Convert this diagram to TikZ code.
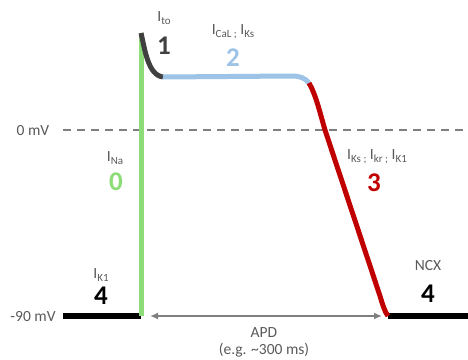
\documentclass[tikz,border=0pt]{standalone}
\usepackage{fontspec}
\setmainfont{Carlito}
\usetikzlibrary{arrows.meta}
\definecolor{txt}{HTML}{595959}
\definecolor{dkg}{HTML}{404040}
\definecolor{grn}{HTML}{8CDC78}
\definecolor{blu}{HTML}{9DC3E6}
\definecolor{rd}{HTML}{C00000}
\definecolor{dashgray}{HTML}{7F7F7F}
\newcommand\cur[1]{I\raisebox{-3.5pt}{\fontsize{11}{12}\selectfont #1}}
\tikzset{
  lbl/.style={anchor=base, text=txt, font=\fontsize{15.5}{17}\selectfont, inner sep=0pt},
  num/.style={anchor=base, font=\fontsize{27}{30}\selectfont\bfseries, inner sep=0pt},
  trace/.style={line width=5pt},
}
\begin{document}
\begin{tikzpicture}[x=1pt,y=-1pt]
\useasboundingbox (0,0) rectangle (468,359);
% coordinates
\coordinate (rest1) at (63,316);
\coordinate (up0) at (141,316);
\coordinate (peak) at (141,33);
\coordinate (p1end) at (163,77);
\coordinate (p2end) at (309,83);
\coordinate (p3end) at (388,316);
\coordinate (rest2) at (468,316);
\coordinate (zl) at (63,130);
\coordinate (zr) at (468,130);
\coordinate (apdl) at (150,316);
\coordinate (apdr) at (382,316);
% zero line
\draw[dashgray, line width=2pt, dash pattern=on 8pt off 6pt] (zl) -- (zr);
% resting
\draw[trace, black, line width=6pt] (rest1) -- (up0);
\draw[trace, black, line width=6pt] (p3end) -- (rest2);
% phase 0
\draw[trace, grn] (up0) -- (peak);
% phase 1
\draw[trace, dkg] (peak) .. controls (145,50) and (148,75) .. (p1end);
% phase 2
\draw[trace, blu] (p1end) -- (292,76) .. controls (300,76) and (305,78) .. (p2end);
% phase 3
\draw[trace, rd] (p2end) .. controls (316,95) and (320,113) .. (325,130) -- (380,296) .. controls (383,306) and (385,312) .. (p3end);
% APD arrow
\draw[dashgray, line width=1.8pt, {Latex[length=8pt,width=7pt]}-{Latex[length=8pt,width=7pt]}] (apdl) -- (apdr);
% labels
\node[lbl] (zmv) at (33,135) {0 mV};
\node[lbl] (nmv) at (33,321) {-90 mV};
\node[lbl] (ito) at (164,21) {\cur{to}};
\node[num, text=dkg] (n1) at (164,54) {1};
\node[lbl] (ical) at (233,34) {\cur{CaL ;} \cur{Ks}};
\node[num, text=blu] (n2) at (233,66) {2};
\node[lbl] (iks) at (377,159) {\cur{Ks ;} \cur{kr ;} \cur{K1}};
\node[num, text=rd] (n3) at (374,191) {3};
\node[lbl] (ina) at (115,161) {\cur{Na}};
\node[num, text=grn] (n0) at (116,190) {0};
\node[lbl] (ik1) at (101,278) {\cur{K1}};
\node[num, text=black] (n4a) at (101,304) {4};
\node[lbl] (ncx) at (428,270) {NCX};
\node[num, text=black] (n4b) at (428,302) {4};
\node[lbl] (apd) at (264,337) {APD};
\node[lbl] (eg) at (264,354) {(e.g. \textasciitilde300 ms)};
\end{tikzpicture}
\end{document}
